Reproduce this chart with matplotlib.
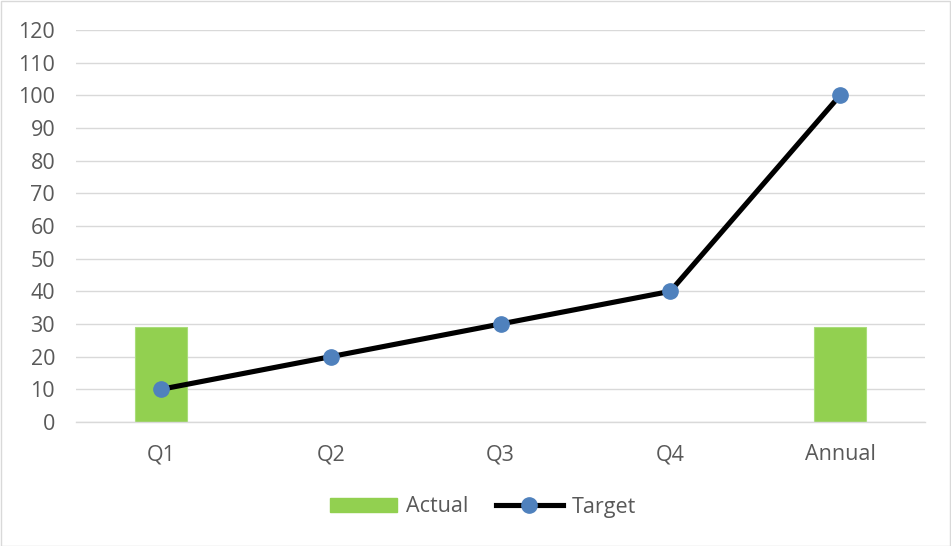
import matplotlib.pyplot as plt
import numpy as np
from matplotlib.patches import Rectangle
from matplotlib.lines import Line2D

categories = ["Q1", "Q2", "Q3", "Q4", "Annual"]
actual = [29, None, None, None, 29]
target = [10, 20, 30, 40, 100]
y_ticks = list(range(0, 121, 10))

plt.rcParams['font.family'] = ['Open Sans', 'DejaVu Sans']

fig = plt.figure(figsize=(9.51, 5.46), dpi=100)
ax = fig.add_axes([76 / 951, 1 - 422 / 546, 849 / 951, 392 / 546])

x = np.arange(len(categories))
bar_x = [i for i, v in enumerate(actual) if v is not None]
bar_h = [v for v in actual if v is not None]
ax.bar(bar_x, bar_h, width=0.31, color="#92d050", edgecolor="#a9dd7a",
       linewidth=0.8, zorder=2)
ax.plot(x, target, color="black", linewidth=3.7, marker="o", markersize=11,
        markerfacecolor="#4f81bd", markeredgecolor="#4f81bd", zorder=3)

ax.set_xlim(-0.5, len(categories) - 0.5)
ax.set_ylim(0, 120)
ax.set_yticks(y_ticks)
ax.set_xticks(x)
ax.set_xticklabels(categories)
ax.grid(axis="y", color="#d9d9d9", linewidth=1, zorder=0)
ax.set_axisbelow(True)
for side in ["top", "right", "left"]:
    ax.spines[side].set_visible(False)
ax.spines["bottom"].set_color("#d9d9d9")
ax.spines["bottom"].set_linewidth(1)
ax.tick_params(axis="both", length=0, labelsize=15.5, colors="#595959")
ax.tick_params(axis="y", pad=15)
ax.tick_params(axis="x", pad=16)

handles = [Rectangle((0, 0), 1, 1, color="#92d050"),
           Line2D([0], [0], color="black", linewidth=3.7, marker="o",
                  markersize=11, markerfacecolor="#4f81bd",
                  markeredgecolor="#4f81bd")]
fig.legend(handles, ["Actual", "Target"], loc="center",
           bbox_to_anchor=(483 / 951, 1 - 507 / 546), ncol=2, frameon=False,
           fontsize=15.5, labelcolor="#595959", handlelength=3.1,
           handleheight=0.6, columnspacing=1.3, handletextpad=0.4)

fig.add_artist(Rectangle((0.5 / 951, 0.5 / 546), 1 - 1.5 / 951, 1 - 1.5 / 546,
                         transform=fig.transFigure, fill=False,
                         edgecolor="#d9d9d9", linewidth=1))

fig.savefig("out.png", dpi=100)
